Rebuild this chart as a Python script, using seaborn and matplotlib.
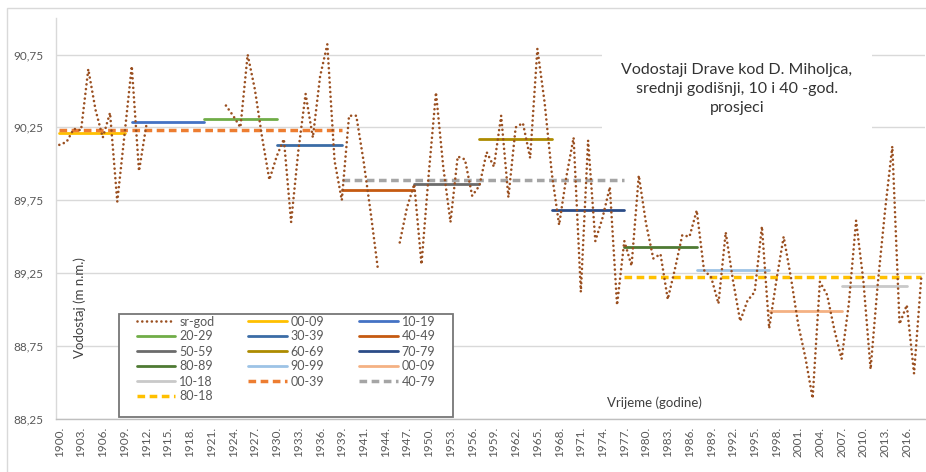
import numpy as np
import pandas as pd
import matplotlib
matplotlib.use("Agg")
import matplotlib.pyplot as plt
from matplotlib.lines import Line2D
from matplotlib.patches import Rectangle
from matplotlib.ticker import FuncFormatter, FixedLocator
import seaborn as sns

nan = np.nan

# time axis categories (the 1940 season appears twice in the record)
godine = list(range(1900, 1941)) + list(range(1940, 2019))

# mean annual water level of the Drava at D. Miholjac, m a.s.l.
sr_god = [
    90.13, 90.15, 90.24, 90.23, 90.65, 90.37, 90.18, 90.35, 89.74, 90.20,
    90.67, 89.95, 90.26, nan, nan, nan, nan, nan, nan, nan,
    nan, nan, nan, 90.40, 90.33, 90.25, 90.75, 90.51, 90.18, 89.89,
    90.05, 90.17, 89.60, 90.09, 90.48, 90.18, 90.60, 90.82, 90.02, 89.75,
    90.33, 90.33, 90.02, 89.66, 89.27, nan, nan, 89.46, 89.70, 89.86,
    89.31, 89.93, 90.49, 89.98, 89.60, 90.05, 90.03, 89.78, 89.85, 90.08,
    89.98, 90.33, 89.77, 90.25, 90.28, 90.04, 90.79, 90.42, 89.93, 89.58,
    89.91, 90.18, 89.12, 90.16, 89.47, 89.63, 89.84, 89.03, 89.47, 89.30,
    89.92, 89.59, 89.35, 89.38, 89.07, 89.28, 89.51, 89.50, 89.68, 89.27,
    89.22, 89.04, 89.53, 89.20, 88.92, 89.06, 89.12, 89.57, 88.87, 89.20,
    89.50, 89.22, 88.90, 88.67, 88.39, 89.19, 89.10, 88.86, 88.66, 89.04,
    89.61, 89.20, 88.59, 89.18, 89.68, 90.12, 88.90, 89.03, 88.56, 89.22,
]

# 10-year and 40-year averages: name, level, first and last category index
prosjek_naziv = ["00-09", "10-19", "20-29", "30-39", "40-49", "50-59", "60-69",
                 "70-79", "80-89", "90-99", "00-09", "10-18",
                 "00-39", "40-79", "80-18"]
prosjek_razina = [90.21, 90.29, 90.31, 90.13, 89.82, 89.86, 90.17,
                  89.68, 89.43, 89.27, 88.99, 89.16,
                  90.23, 89.89, 89.22]
prosjek_od = [0, 10, 20, 30, 39, 49, 58, 68, 78, 88, 98, 108, 0, 39, 78]
prosjek_do = [9, 20, 30, 39, 49, 58, 68, 78, 88, 98, 108, 117, 39, 78, 119]

# ---- styling ---------------------------------------------------------------
boje = ["#FFC000", "#4472C4", "#70AD47", "#3B6CA6", "#C55A11", "#6B6B6B",
        "#AD8B00", "#2B4C87", "#4E7A33", "#9DC3E6", "#F4B183", "#C9C9C9",
        "#ED7D31", "#A5A5A5", "#FFC000"]
DASH = (0, (2.2, 1.3))
stil = ["-"] * 12 + [DASH] * 3
debljina = [2.0] * 12 + [2.5] * 3
BOJA_GOD = "#9A4F20"
TOCKE = (0, (0.01, 1.8))

sns.set_style("white")
plt.rcParams["font.family"] = ["Lato", "DejaVu Sans"]

W, H = 926, 472
fig = plt.figure(figsize=(W / 100, H / 100), dpi=100)


def fx(px):
    return px / W


def fy(py):
    return 1 - py / H


ax_l, ax_r, ax_t, ax_b = 55.7, 924.9, 18.15, 418.7
ax = fig.add_axes([fx(ax_l), fy(ax_b), fx(ax_r) - fx(ax_l), fy(ax_t) - fy(ax_b)])

# averages
for i, naziv in enumerate(prosjek_naziv):
    seg = pd.DataFrame({"x": [prosjek_od[i], prosjek_do[i]],
                        "razina": [prosjek_razina[i]] * 2})
    sns.lineplot(data=seg, x="x", y="razina", ax=ax, color=boje[i],
                 linewidth=debljina[i], linestyle=stil[i], legend=False,
                 estimator=None, sort=False, zorder=3)

# annual series, broken where years are missing
df = pd.DataFrame({"x": np.arange(len(sr_god)), "razina": sr_god})
df["dio"] = df["razina"].isna().cumsum()
df = df.dropna()
sns.lineplot(data=df, x="x", y="razina", units="dio", estimator=None,
             ax=ax, color=BOJA_GOD, linewidth=1.9, linestyle=TOCKE,
             dash_capstyle="round", legend=False, sort=False, zorder=4)

# axes
ax.set_xlim(-0.5, len(godine) - 0.5)
ax.set_ylim(88.25, 91.0)
ax.yaxis.set_major_locator(FixedLocator(np.arange(88.25, 90.76, 0.5)))
ax.yaxis.set_major_formatter(FuncFormatter(lambda v, p: f"{v:.2f}".replace(".", ",")))
pozicije = list(range(0, len(godine), 3))
ax.set_xticks(pozicije)
ax.set_xticklabels([f"{godine[k]}." for k in pozicije], rotation=90)
ax.tick_params(axis="both", length=0, labelsize=8.5, labelcolor="#595959")
ax.tick_params(axis="y", pad=9)
ax.tick_params(axis="x", pad=6)
ax.set_xlabel("")
ax.set_ylabel("")
ax.grid(axis="y", color="#D9D9D9", linewidth=1.0)
ax.set_axisbelow(True)
for s in ["top", "right"]:
    ax.spines[s].set_visible(False)
ax.spines["left"].set_color("#D9D9D9")
ax.spines["bottom"].set_color("#BFBFBF")
ax.spines["left"].set_linewidth(1.0)
ax.spines["bottom"].set_linewidth(1.0)

# chart border
fig.add_artist(Rectangle((fx(7), fy(H + 5)), fx(W + 5) - fx(7), fy(8) - fy(H + 5),
                         transform=fig.transFigure, facecolor="none",
                         edgecolor="#D9D9D9", linewidth=1.0, zorder=0.5))

# title block
fig.add_artist(Rectangle((fx(602), fy(140)), fx(872) - fx(602), fy(40) - fy(140),
                         transform=fig.transFigure, facecolor="white",
                         edgecolor="none", zorder=1))
fig.text(fx(737), fy(89), "Vodostaji Drave kod D. Miholjca,\nsrednji godišnji, 10 i 40 -god.\nprosjeci",
         ha="center", va="center", multialignment="center", fontsize=11.5,
         linespacing=1.45, color="#333333", zorder=2)

# axis titles inside the plot area
fig.text(fx(80), fy(308), "Vodostaj (m n.m.)", rotation=90, ha="center",
         va="center", fontsize=9.5, color="#404040", zorder=2)
fig.text(fx(654), fy(403), "Vrijeme (godine)", ha="center", va="center",
         fontsize=9.5, color="#404040", zorder=2)

# legend
fig.add_artist(Rectangle((fx(119), fy(417)), fx(453) - fx(119), fy(314) - fy(417),
                         transform=fig.transFigure, facecolor="white",
                         edgecolor="#767676", linewidth=1.3, zorder=1))
rucke = [Line2D([], [], color=BOJA_GOD, linewidth=1.9, linestyle=TOCKE,
                dash_capstyle="round")]
oznake = ["sr-god"]
for i, naziv in enumerate(prosjek_naziv):
    rucke.append(Line2D([], [], color=boje[i], linewidth=debljina[i],
                        linestyle=stil[i]))
    oznake.append(naziv)

stupci = [[0, 3, 6, 9, 12, 15], [1, 4, 7, 10, 13], [2, 5, 8, 11, 14]]
stupac_x = [136.7, 248, 359.3]
for stupac, sx in zip(stupci, stupac_x):
    fig.legend([rucke[k] for k in stupac], [oznake[k] for k in stupac],
               loc="upper left", bbox_to_anchor=(fx(sx), fy(315.5)),
               bbox_transform=fig.transFigure, frameon=False, borderpad=0,
               borderaxespad=0, handlelength=3.1, handletextpad=0.3,
               labelspacing=0.24, fontsize=9, labelcolor="#595959")

fig.savefig("out.png", dpi=100)
